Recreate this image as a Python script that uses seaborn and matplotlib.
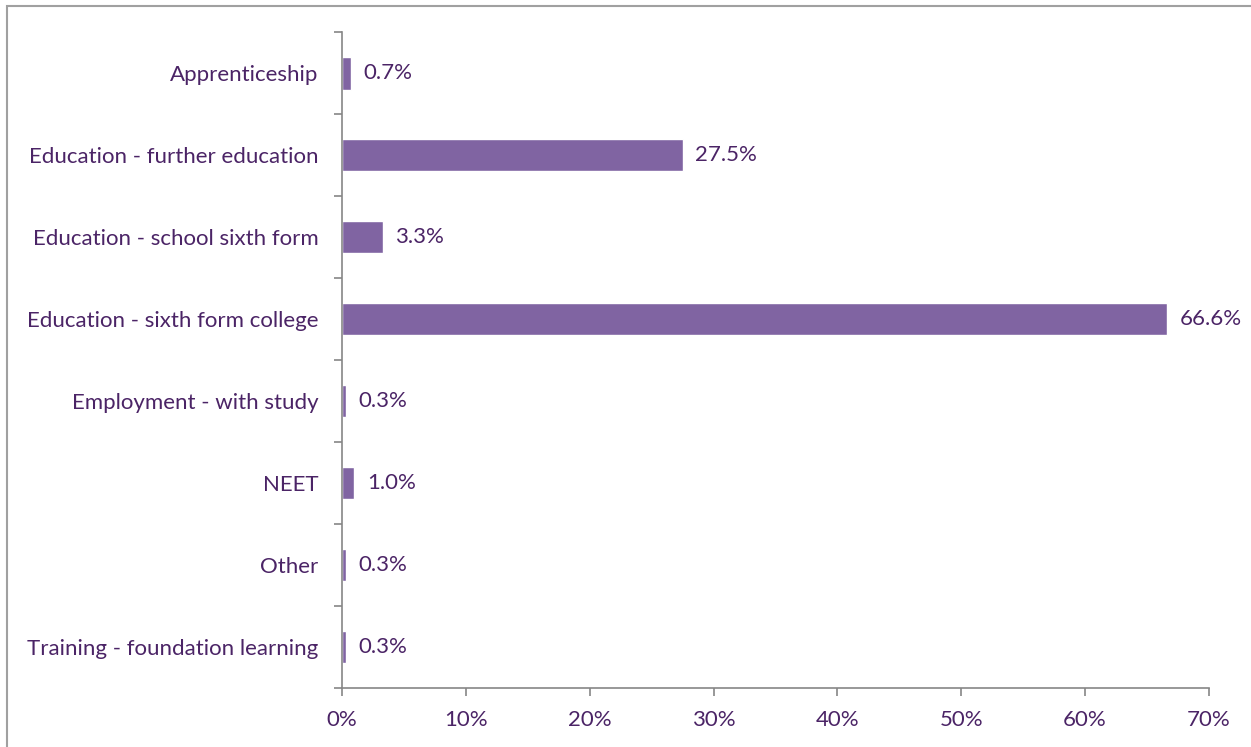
import matplotlib
matplotlib.use('Agg')
import matplotlib.pyplot as plt
import numpy as np
import pandas as pd
import seaborn as sns
from matplotlib.patches import Rectangle
from matplotlib.ticker import FuncFormatter

categories = ['Apprenticeship', 'Education - further education', 'Education - school sixth form',
              'Education - sixth form college', 'Employment - with study', 'NEET', 'Other',
              'Training - foundation learning']
values = [0.7, 27.5, 3.3, 66.6, 0.3, 1.0, 0.3, 0.3]
x_ticks = [0, 10, 20, 30, 40, 50, 60, 70]

df = pd.DataFrame({'destination': categories, 'pct': values})

sns.set_style('white')
plt.rcParams['font.family'] = ['Lato', 'DejaVu Sans']

text_col = '#4B2466'
bar_col = '#8064A2'
axis_col = '#868686'
fs = 16

fig = plt.figure(figsize=(12.51, 7.47), dpi=100)
ax = fig.add_axes([0.2734, 0.079, 0.693, 0.878])

sns.barplot(ax=ax, data=df, x='pct', y='destination', orient='h', color=bar_col,
            width=0.4, saturation=1, order=categories)

ax.set_xlim(0, 70)
ax.set_ylim(len(categories) - 0.5, -0.5)
ax.set_xticks(x_ticks)
ax.xaxis.set_major_formatter(FuncFormatter(lambda v, p: f'{v:.0f}%'))
ax.set_xlabel('')
ax.set_ylabel('')

# category ticks at row boundaries, labels centred on rows
ax.set_yticks(np.arange(len(categories) + 1) - 0.5, minor=True)
ax.tick_params(axis='y', which='major', length=0, pad=17, labelsize=fs, labelcolor=text_col)
ax.tick_params(axis='y', which='minor', length=6, width=1.2, color=axis_col, direction='out', left=True)
ax.tick_params(axis='x', which='major', length=6, width=1.2, color=axis_col, direction='out',
               bottom=True, pad=10, labelsize=fs, labelcolor=text_col)

for s in ['top', 'right']:
    ax.spines[s].set_visible(False)
for s in ['left', 'bottom']:
    ax.spines[s].set_color(axis_col)
    ax.spines[s].set_linewidth(1.2)

for c in ax.containers:
    ax.bar_label(c, labels=[f'{v:.1f}%' for v in values], padding=9, fontsize=fs, color=text_col)

# chart border (only top and left edges show in the crop)
fig.patches.append(Rectangle((6.5 / 1251, -0.05), 1.2, 1 - 5.5 / 747 + 0.05, transform=fig.transFigure,
                             fill=False, edgecolor='#A0A0A0', linewidth=1.5))

fig.savefig('out.png', dpi=100)
